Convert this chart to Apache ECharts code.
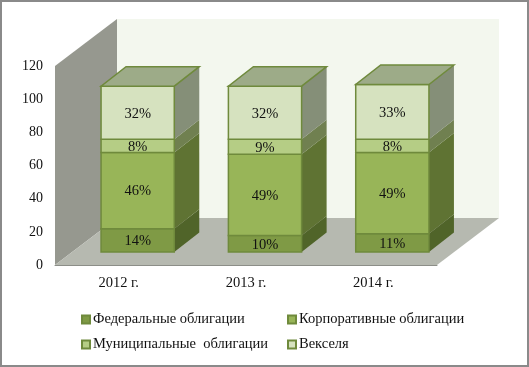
<!DOCTYPE html>
<html>
<head>
<meta charset="utf-8">
<style>
html, body { margin: 0; padding: 0; background: #fff; }
#chart { width: 529px; height: 367px; box-sizing: border-box; }
</style>
<script src="https://cdn.jsdelivr.net/npm/echarts@6/dist/echarts.min.js"></script>
</head>
<body>
<div id="chart"></div>
<script>
const categories = ['2012 г.', '2013 г.', '2014 г.']
const federal = [14, 10, 11]
const corporate = [46, 49, 49]
const municipal = [8, 9, 8]
const bills = [32, 32, 33]
const yTicks = [0, 20, 40, 60, 80, 100, 120]

const font = '"Liberation Serif"'
const outline = '#6f8a3c'
// px offsets of the fake 3d box
const wallDx = 62, wallDy = -47
const barDx = 19, barDy = -13
const depthDx = 25, depthDy = -19.5
const barRatio = 0.575

const layers = [
    { name: 'Федеральные облигации', values: federal, front: '#7f9a45', side: '#506429' },
    { name: 'Корпоративные облигации', values: corporate, front: '#98b558', side: '#5f7333' },
    { name: 'Муниципальные  облигации', values: municipal, front: '#b5cd85', side: '#708050' },
    { name: 'Векселя', values: bills, front: '#d6e2bf', side: '#858f78' }
]

const poly = function (points, fill, stroke) {
    return {
        type: 'polygon',
        shape: { points },
        style: { fill, stroke: stroke || 'none', lineWidth: stroke ? 1.5 : 0 }
    }
}

const renderWalls = function (params, api) {
    const c = params.coordSys
    const l = c.x, r = c.x + c.width, t = c.y, b = c.y + c.height
    return {
        type: 'group',
        children: [
            poly([[l + wallDx, t + wallDy], [r + wallDx, t + wallDy], [r + wallDx, b + wallDy], [l + wallDx, b + wallDy]], '#f3f7ee'),
            poly([[l, t], [l + wallDx, t + wallDy], [l + wallDx, b + wallDy], [l, b]], '#96988f'),
            poly([[l, b], [l + wallDx, b + wallDy], [r + wallDx, b + wallDy], [r, b]], '#b6b9b0')
        ]
    }
}

const makeRender = function (layerIndex) {
    const layer = layers[layerIndex]
    return function (params, api) {
        const i = api.value(0)
        const low = api.coord([i, api.value(1)])
        const high = api.coord([i, api.value(2)])
        const w = api.size([1, 0])[0] * barRatio
        const x0 = low[0] + barDx - w / 2
        const x1 = x0 + w
        const y0 = low[1] + barDy
        const y1 = high[1] + barDy
        const children = [
            poly([[x1, y0], [x1 + depthDx, y0 + depthDy], [x1 + depthDx, y1 + depthDy], [x1, y1]], layer.side),
            poly([[x0, y0], [x1, y0], [x1, y1], [x0, y1]], layer.front, outline)
        ]
        if (layerIndex === layers.length - 1) {
            children.push(poly([[x0, y1], [x1, y1], [x1 + depthDx, y1 + depthDy], [x0 + depthDx, y1 + depthDy]], '#9dab88', outline))
        }
        children.push({
            type: 'text',
            style: {
                text: api.value(3) + '%',
                x: (x0 + x1) / 2,
                y: (y0 + y1) / 2 + 1,
                align: 'center',
                verticalAlign: 'middle',
                font: '14.5px ' + font,
                fill: '#111'
            }
        })
        return { type: 'group', children }
    }
}

const series = [{
    type: 'custom',
    silent: true,
    renderItem: renderWalls,
    data: [[0]],
    z: 1
}]
layers.forEach(function (layer, idx) {
    const data = layer.values.map(function (v, i) {
        let base = 0
        for (let k = 0; k < idx; k++) {
            base += layers[k].values[i]
        }
        return [i, base, base + v, v]
    })
    series.push({
        name: layer.name,
        type: 'custom',
        renderItem: makeRender(idx),
        encode: { x: 0, y: [1, 2] },
        itemStyle: { color: layer.front, borderColor: outline, borderWidth: 1 },
        data,
        z: 2 + idx
    })
})

const legendBase = {
    orient: 'vertical',
    icon: 'rect',
    padding: 0,
    itemWidth: 8,
    itemHeight: 8,
    itemGap: 10,
    selectedMode: false,
    textStyle: { fontFamily: font, fontSize: 14.5, color: '#111', padding: [0, 0, 0, -2] }
}

const option = {
    animation: false,
    backgroundColor: '#fff',
    grid: { left: 53, right: 90, top: 64, bottom: 100 },
    legend: [
        Object.assign({}, legendBase, { left: 79, top: 310, data: [layers[0].name, layers[2].name] }),
        Object.assign({}, legendBase, { left: 285, top: 310, data: [layers[1].name, layers[3].name] })
    ],
    xAxis: {
        type: 'category',
        data: categories,
        z: 10,
        axisTick: { show: false },
        axisLine: { lineStyle: { color: '#8c8e88', width: 1 } },
        axisLabel: { fontFamily: font, fontSize: 14.5, color: '#111', margin: 11 }
    },
    yAxis: {
        type: 'value',
        min: yTicks[0],
        max: yTicks[yTicks.length - 1],
        interval: yTicks[1] - yTicks[0],
        axisTick: { show: false },
        axisLine: { show: false },
        splitLine: { show: false },
        axisLabel: { fontFamily: font, fontSize: 14, color: '#111', margin: 12 }
    },
    series
}

const el = document.getElementById('chart')
el.style.border = '2px solid #8a8a8a'
const chart = echarts.init(el, null, { width: 525, height: 363 })
chart.setOption(option)
</script>
</body>
</html>
